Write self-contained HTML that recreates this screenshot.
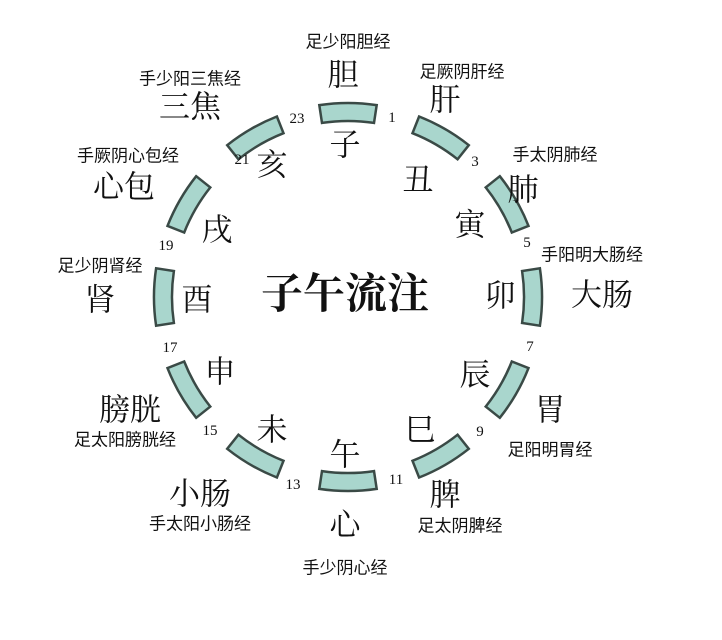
<!DOCTYPE html>
<html><head><meta charset="utf-8"><style>
html,body{margin:0;padding:0;background:#fff}
svg{display:block}
text{font-family:"Liberation Serif","Noto Serif CJK SC","Noto Sans CJK SC",serif;fill:#111;text-anchor:middle;dominant-baseline:central}
.b{font-size:31px}
.s{font-size:17px;font-family:"Liberation Sans","Noto Sans CJK SC",sans-serif}
.n{font-size:15px}
.t{font-size:42px;font-weight:bold}
</style></head><body>
<svg width="722" height="640" viewBox="0 0 722 640" xmlns="http://www.w3.org/2000/svg">
<g id="segs"></g>
<text class="t" x="345" y="295">子午流注</text>
<text class="b" x="343" y="75">胆</text><text class="s" x="348" y="42">足少阳胆经</text>
<text class="b" x="445" y="100">肝</text><text class="s" x="462" y="72">足厥阴肝经</text>
<text class="b" x="190" y="107">三焦</text><text class="s" x="190" y="79">手少阳三焦经</text>
<text class="b" x="124" y="187">心包</text><text class="s" x="128" y="156">手厥阴心包经</text>
<text class="b" x="523" y="190">肺</text><text class="s" x="555" y="155">手太阴肺经</text>
<text class="b" x="602" y="295">大肠</text><text class="s" x="592" y="255">手阳明大肠经</text>
<text class="b" x="100" y="300">肾</text><text class="s" x="100" y="266">足少阴肾经</text>
<text class="b" x="130" y="410">膀胱</text><text class="s" x="125" y="440">足太阳膀胱经</text>
<text class="b" x="550" y="410">胃</text><text class="s" x="550" y="450">足阳明胃经</text>
<text class="b" x="200" y="494">小肠</text><text class="s" x="200" y="524">手太阳小肠经</text>
<text class="b" x="445" y="495">脾</text><text class="s" x="460" y="526">足太阴脾经</text>
<text class="b" x="345" y="525">心</text><text class="s" x="345" y="568">手少阴心经</text>
<text class="b" x="345" y="145">子</text><text class="b" x="418" y="180">丑</text>
<text class="b" x="470" y="225">寅</text><text class="b" x="500" y="296">卯</text>
<text class="b" x="475" y="375">辰</text><text class="b" x="420" y="430">巳</text>
<text class="b" x="345" y="455">午</text><text class="b" x="272" y="430">未</text>
<text class="b" x="220" y="372">申</text><text class="b" x="197" y="300">酉</text>
<text class="b" x="217" y="230">戌</text><text class="b" x="272" y="165">亥</text>
<text class="n" x="297" y="119">23</text><text class="n" x="392" y="118">1</text>
<text class="n" x="475" y="162">3</text><text class="n" x="527" y="243">5</text>
<text class="n" x="530" y="347">7</text><text class="n" x="480" y="432">9</text>
<text class="n" x="396" y="480">11</text><text class="n" x="293" y="485">13</text>
<text class="n" x="210" y="431">15</text><text class="n" x="170" y="348">17</text>
<text class="n" x="166" y="246">19</text><text class="n" x="242" y="160">21</text>
<path d="" id="p"/>
</svg>
<script>
(function(){
var g=document.getElementById('segs'),cx=348,cy=297,r=185,h=8.5,ns='http://www.w3.org/2000/svg';
for(var i=0;i<12;i++){
 var a=i*30*Math.PI/180,a1=a-h*Math.PI/180,a2=a+h*Math.PI/180;
 function pt(an,rr){return (cx+rr*Math.sin(an)).toFixed(1)+' '+(cy-rr*Math.cos(an)).toFixed(1);}
 var ro=r+9,ri=r-9;
 var d='M'+pt(a1,ro)+' A'+ro+' '+ro+' 0 0 1 '+pt(a2,ro)+' L'+pt(a2,ri)+' A'+ri+' '+ri+' 0 0 0 '+pt(a1,ri)+' Z';
 var p=document.createElementNS(ns,'path');
 p.setAttribute('d',d);p.setAttribute('fill','#a9d6cd');p.setAttribute('stroke','#3a4a46');p.setAttribute('stroke-width','2.5');
 g.appendChild(p);
}
})();
</script>
</body></html>
